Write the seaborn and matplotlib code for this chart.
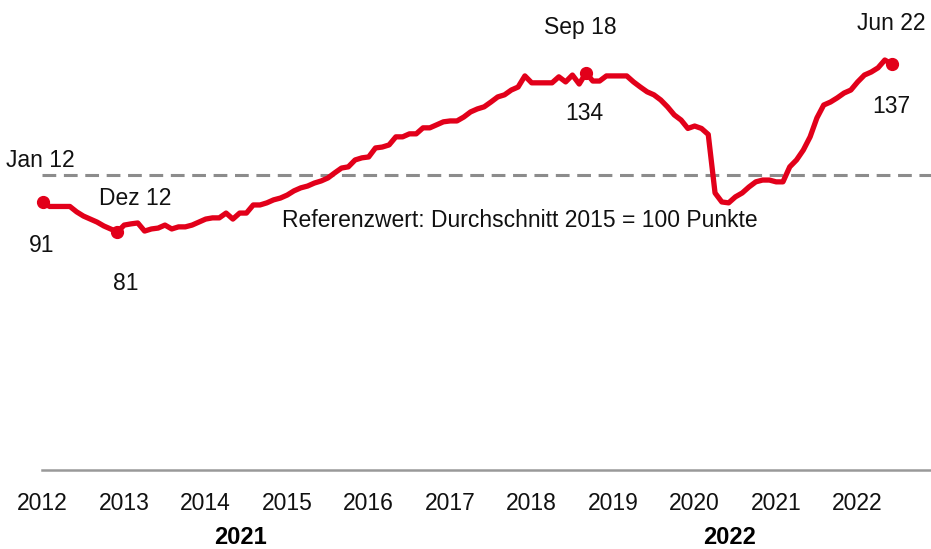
import numpy as np
import pandas as pd
import matplotlib
matplotlib.use("Agg")
import matplotlib.pyplot as plt
import seaborn as sns

# monthly index values (2015 = 100)
v2012 = [91, 89.5, 89.5, 89.5, 89.5, 87.7, 86.3, 85.3, 84.3, 83, 82, 81]
v2013 = [83.3, 83.7, 84, 81.3, 82, 82.3, 83.3, 82, 82.7, 82.7, 83.3, 84.3]
v2014 = [85.3, 85.7, 85.7, 87.3, 85.3, 87.3, 87.3, 90, 90, 90.7, 91.7, 92.3]
v2015 = [93.3, 94.7, 95.7, 96.3, 97.3, 98, 99, 100.7, 102.3, 102.7, 105, 105.7]
v2016 = [106, 109, 109.3, 110, 112.7, 112.7, 113.7, 113.7, 115.7, 115.7, 116.7, 117.7]
v2017 = [118, 118, 119.3, 121, 122, 122.7, 124.3, 126, 126.7, 128.3, 129.3, 133]
v2018 = [130.7, 130.7, 130.7, 130.7, 132.7, 131, 133.3, 130.3, 134, 131.3, 131.3, 133]
v2019 = [133, 133, 133, 131, 129.3, 127.7, 126.7, 125, 122.7, 120, 118.3, 115.5]
v2020 = [116.3, 115.5, 113.5, 94, 91, 90.7, 92.7, 94, 96, 97.7, 98.3, 98.3]
v2021 = [97.7, 97.7, 102.7, 105, 108.3, 112.7, 119, 123.3, 124.3, 125.7, 127.3, 128.3]
v2022 = [131, 133.3, 134.3, 135.7, 138.3, 137]

years = list(range(2012, 2023))
ref_value = 100
ref_label = "Referenzwert: Durchschnitt 2015 = 100 Punkte"
bold_labels = ["2021", "2022"]

# highlighted points: (label, year, month index, value label)
highlights = [("Jan 12", 2012, 0, "91"),
              ("Dez 12", 2012, 11, "81"),
              ("Sep 18", 2018, 8, "134"),
              ("Jun 22", 2022, 5, "137")]

all_vals = [v2012, v2013, v2014, v2015, v2016, v2017, v2018, v2019, v2020, v2021, v2022]
rows = []
for yr, vals in zip(years, all_vals):
    for m, v in enumerate(vals):
        rows.append({"t": yr + m / 12, "value": v})
df = pd.DataFrame(rows)

red = "#e2001a"
fs = 16.5
sns.set_style("white")
plt.rcParams["font.family"] = ["Liberation Sans", "DejaVu Sans"]

fig = plt.figure(figsize=(9.31, 5.49), dpi=100)
ax = fig.add_axes([0.045, 0.144, 0.955, 0.856])

ax.axhline(ref_value, color="#8c8c8c", lw=2.2, ls=(0, (4.5, 2.5)), zorder=1)
sns.lineplot(data=df, x="t", y="value", color=red, lw=3.8, ax=ax, zorder=3)
for ln in ax.lines:
    ln.set_clip_on(False)

# highlighted dots + labels
label_offsets = {"Jan 12": ((-2, 30), (-1, -31)),
                 "Dez 12": ((13, 24), (6, -37)),
                 "Sep 18": ((-4, 33), (-1, -29)),
                 "Jun 22": ((0, 29), (0, -31))}
for name, yr, m, vtxt in highlights:
    t = yr + m / 12
    v = df.loc[np.isclose(df["t"], t), "value"].iloc[0]
    ax.plot(t, v, "o", color=red, ms=8.5, zorder=4, clip_on=False)
    top, bot = label_offsets[name]
    ax.annotate(name, (t, v), xytext=top, textcoords="offset points",
                ha="center", va="center", fontsize=fs, color="#111111")
    ax.annotate(vtxt, (t, v), xytext=bot, textcoords="offset points",
                ha="center", va="center", fontsize=fs, color="#111111")

ax.annotate(ref_label, (2017.85, ref_value), xytext=(0, -33), textcoords="offset points",
            ha="center", va="center", fontsize=fs, color="#111111")

ax.set_xlim(2011.99, 2022.9)
ax.set_ylim(1.7, 158.3)
ax.set_xticks(years)
ax.set_xticklabels([str(y) for y in years], fontsize=fs, color="#111111")
ax.set_yticks([])
ax.tick_params(axis="x", length=0, pad=16)
ax.set_xlabel("")
ax.set_ylabel("")
for s in ["left", "right", "top"]:
    ax.spines[s].set_visible(False)
ax.spines["bottom"].set_color("#999999")
ax.spines["bottom"].set_linewidth(1.8)

fig.text(240 / 931, 1 - 538 / 549, bold_labels[0], ha="center", va="center",
         fontsize=17, fontweight="bold", color="black")
fig.text(730 / 931, 1 - 538 / 549, bold_labels[1], ha="center", va="center",
         fontsize=17, fontweight="bold", color="black")

fig.savefig("out.png", dpi=100)
